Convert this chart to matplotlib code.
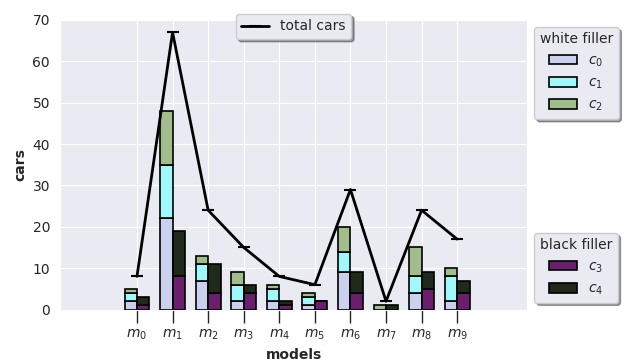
import matplotlib
matplotlib.use("Agg")
import matplotlib.pyplot as plt
import numpy as np
import seaborn as sns

sns.set_style("darkgrid")
plt.rcParams["font.family"] = ["DejaVu Sans"]

models = [f"$m_{i}$" for i in range(10)]

# cars per class for each model
c0 = [2, 22, 7, 2, 2, 1, 9, 0, 4, 2]
c1 = [2, 13, 4, 4, 3, 2, 5, 0, 4, 6]
c2 = [1, 13, 2, 3, 1, 1, 6, 1, 7, 2]
c3 = [1, 8, 4, 4, 1, 2, 4, 0, 5, 4]
c4 = [2, 11, 7, 2, 1, 0, 5, 1, 4, 3]

white_series = [("$c_0$", c0, "#cad0ee"), ("$c_1$", c1, "#a0f8fa"), ("$c_2$", c2, "#a1bd8b")]
black_series = [("$c_3$", c3, "#6a1f6c"), ("$c_4$", c4, "#1f2a1b")]

x = np.arange(len(models))
width = 0.35

fig = plt.figure(figsize=(6.36, 3.62), dpi=100)
ax = fig.add_axes([0.094, 0.145, 0.735, 0.80])

white_handles = []
bottom = np.zeros(len(x))
for label, vals, color in white_series:
    h = ax.bar(x - width / 2, vals, width, bottom=bottom, color=color,
               edgecolor="black", linewidth=1.2, label=label, zorder=3)
    white_handles.append(h)
    bottom += np.array(vals)

black_handles = []
bottom = np.zeros(len(x))
for label, vals, color in black_series:
    h = ax.bar(x + width / 2, vals, width, bottom=bottom, color=color,
               edgecolor="black", linewidth=1.2, label=label, zorder=3)
    black_handles.append(h)
    bottom += np.array(vals)

total = np.array(c0) + np.array(c1) + np.array(c2) + np.array(c3) + np.array(c4)
line, = ax.plot(x, total, color="black", linewidth=2, marker="_",
                markersize=8, markeredgewidth=1.5, label="total cars", zorder=4)

ax.set_xlim(-2.17, 10.97)
ax.set_ylim(0, 70)
ax.set_xticks(x)
ax.set_xticklabels(models)
ax.set_yticks(range(0, 71, 10))
ax.tick_params(axis="x", bottom=True, length=9, width=1, color="#262626",
               labelsize=10, pad=4)
ax.tick_params(axis="y", left=False, labelsize=10)
ax.set_xlabel("models", fontweight="bold", fontsize=10)
ax.set_ylabel("cars", fontweight="bold", fontsize=10)

leg_total = ax.legend(handles=[line], loc="upper center",
                      bbox_to_anchor=(0.5, 1.045), shadow=True, fancybox=True,
                      frameon=True, fontsize=10)
ax.add_artist(leg_total)
leg_white = ax.legend(handles=white_handles, title="white filler",
                      loc="upper left", bbox_to_anchor=(1.0, 1.0),
                      shadow=True, fancybox=True, frameon=True, fontsize=10,
                      title_fontsize=10)
ax.add_artist(leg_white)
leg_black = ax.legend(handles=black_handles, title="black filler",
                      loc="lower left", bbox_to_anchor=(1.0, 0.0),
                      shadow=True, fancybox=True, frameon=True, fontsize=10,
                      title_fontsize=10)

fig.savefig("out.png", dpi=100)
